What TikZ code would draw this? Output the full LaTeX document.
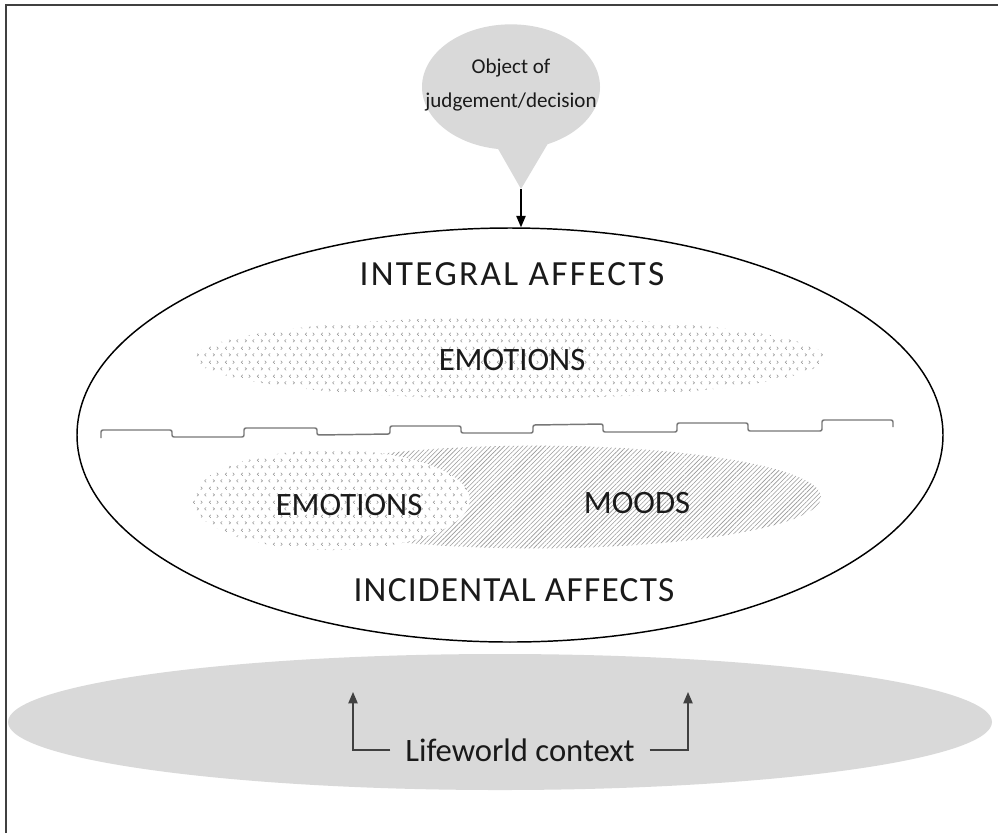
\documentclass[tikz,border=0pt]{standalone}
\usepackage{fontspec}
\setmainfont{Carlito}
\newfontfamily\widefontA[LetterSpace=6.5]{Carlito}
\newfontfamily\widefontB[LetterSpace=3.5]{Carlito}
\usetikzlibrary{shapes.geometric,patterns,patterns.meta,arrows.meta}
\definecolor{lightfill}{HTML}{D9D9D9}
\definecolor{framecol}{HTML}{404040}
\definecolor{stepcol}{HTML}{777777}
\definecolor{txtcol}{HTML}{1A1A1A}
\definecolor{patcol}{HTML}{999999}
\tikzdeclarepattern{
  name=chevrons,
  type=uncolored,
  bounding box={(0pt,0pt) and (12pt,10.5pt)},
  tile size={(12pt,10.5pt)},
  code={
    \draw[line width=0.45pt,line cap=round] (2.2pt,6.65pt)--(1pt,7.75pt)--(2.2pt,8.85pt);
    \draw[line width=0.45pt,line cap=round] (7pt,6.65pt)--(8.2pt,7.75pt)--(7pt,8.85pt);
    \draw[line width=0.45pt,line cap=round] (4pt,1.4pt)--(5.2pt,2.5pt)--(4pt,3.6pt);
    \draw[line width=0.45pt,line cap=round] (11.2pt,1.4pt)--(10pt,2.5pt)--(11.2pt,3.6pt);
  }
}
\begin{document}
\begin{tikzpicture}[x=0.75pt,y=-0.75pt,
  bigtxt/.style={font=\fontsize{24.5}{29}\selectfont, text=txtcol, anchor=base, inner sep=0pt},
  headtxtA/.style={font=\widefontA\fontsize{26.5}{30}\selectfont, text=txtcol, anchor=base, inner sep=0pt},
  headtxtB/.style={font=\widefontB\fontsize{26.5}{30}\selectfont, text=txtcol, anchor=base, inner sep=0pt},
  dotfill/.style={pattern=chevrons, pattern color=patcol},
  hatchfill/.style={pattern={Lines[angle=45,distance=2.4pt,line width=0.45pt]}, pattern color=patcol},
  arr/.style={line width=0.9pt, -{Triangle[width=7pt,length=8.5pt]}},
  sidearr/.style={draw=framecol, line width=0.9pt, -{Triangle[width=7pt,length=8.5pt]}},
]
\useasboundingbox (0,0) rectangle (998,833);
\fill[white] (0,0) rectangle (998,833);
% frame (top and left only)
\draw[framecol, line width=1.5pt] (6,833) -- (6,5) -- (998,5);

% lifeworld context ellipse
\node[ellipse, fill=lightfill, minimum width=738pt, minimum height=102pt, inner sep=0pt] (world) at (500,722) {};

% callout
\fill[lightfill] (493,140) -- (550,140) -- (521,189) -- cycle;
\node[ellipse, fill=lightfill, minimum width=133.5pt, minimum height=94pt, inner sep=0pt] (obj) at (511,87) {};
\node[font=\fontsize{15.8}{25}\selectfont, text=txtcol, align=center, inner sep=0pt] (objtxt) at (511,85) {Object of\\judgement/decision};
\coordinate (tip) at (521,189);

% big ellipse
\node[ellipse, draw=black, line width=1.1pt, minimum width=649.5pt, minimum height=310.5pt, inner sep=0pt] (big) at (510,435) {};
\draw[arr] (tip) -- (tip |- big.north);

% upper emotions
\node[ellipse, dotfill, minimum width=472pt, minimum height=61pt, inner sep=0pt] (uemo) at (510,358) {};
% moods
\node[ellipse, hatchfill, minimum width=429pt, minimum height=77pt, inner sep=0pt] (moods) at (535,497) {};
% lower emotions
\node[ellipse, fill=white, minimum width=208pt, minimum height=75pt, inner sep=0pt] (lemobg) at (331,500) {};
\node[ellipse, dotfill, minimum width=208pt, minimum height=75pt, inner sep=0pt] (lemo) at (331,500) {};

% step line
\draw[stepcol, line width=1.1pt, rounded corners=1.5pt]
  (101,438) -- (101,430) -- (172,430) -- (172,437) -- (244,437) -- (244,428)
  -- (317,428) -- (317,435) -- (390,434) -- (390,426) -- (461,426) -- (461,433)
  -- (533,433) -- (533,425) -- (603,424) -- (603,432) -- (677,432) -- (677,423)
  -- (748,423) -- (748,431) -- (822,431) -- (822,420) -- (893,420) -- (893,427);

% labels
\node[headtxtA] (integral) at (512,285) {INTEGRAL AFFECTS};
\node[bigtxt] (uemotxt) at (512,370) {EMOTIONS};
\node[bigtxt] (lemotxt) at (349,515) {EMOTIONS};
\node[bigtxt] (moodtxt) at (637,513) {MOODS};
\node[headtxtB] (incidental) at (514,601) {INCIDENTAL AFFECTS};

% lifeworld
\node[font=\fontsize{24.5}{29}\selectfont, text=txtcol, inner xsep=11pt, inner ysep=0pt] (life) at (520,750) {Lifeworld context};
\coordinate (la) at (353,692);
\coordinate (ra) at (688,692);
\draw[sidearr] (life.west) -| (la);
\draw[sidearr] (life.east) -| (ra);
\end{tikzpicture}
\end{document}
